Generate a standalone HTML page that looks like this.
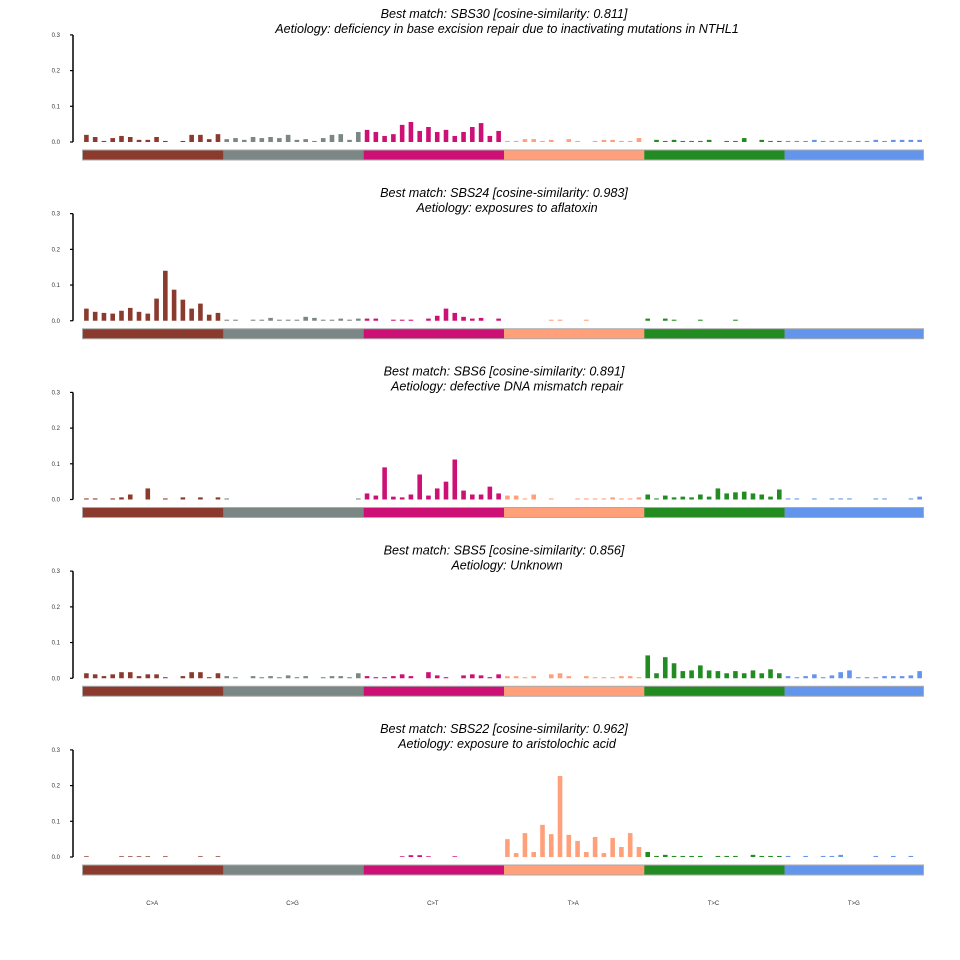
<!DOCTYPE html>
<html><head><meta charset="utf-8"><style>
html,body{margin:0;padding:0;background:#fff;}
svg{display:block;font-family:"Liberation Sans",sans-serif;}
</style></head><body>
<svg id="chart" width="960" height="960" viewBox="0 0 960 960" xmlns="http://www.w3.org/2000/svg"></svg>
<script>
const categories = ["C>A","C>G","C>T","T>A","T>C","T>G"];
const titles1 = ["Best match: SBS30 [cosine-similarity: 0.811]","Best match: SBS24 [cosine-similarity: 0.983]","Best match: SBS6 [cosine-similarity: 0.891]","Best match: SBS5 [cosine-similarity: 0.856]","Best match: SBS22 [cosine-similarity: 0.962]"];
const titles2 = ["Aetiology: deficiency in base excision repair due to inactivating mutations in NTHL1","Aetiology: exposures to aflatoxin","Aetiology: defective DNA mismatch repair","Aetiology: Unknown","Aetiology: exposure to aristolochic acid"];
const yTicks = [0.0,0.1,0.2,0.3];
const yTickLabels = ["0.0","0.1","0.2","0.3"];
const sbs30 = [
.020,.014,.003,.011,.017,.014,.006,.006,.014,.003,0,.003,.020,.020,.008,.022,
.008,.011,.006,.014,.011,.014,.011,.020,.006,.008,.003,.011,.020,.022,.006,.028,
.034,.028,.017,.022,.048,.056,.031,.042,.028,.034,.017,.028,.042,.053,.017,.031,
.003,.003,.008,.008,.003,.006,0,.008,.003,0,.003,.006,.006,.003,.003,.011,
0,.006,.003,.006,.003,.003,.003,.006,0,.003,.003,.011,0,.006,.003,.003,
.003,.003,.003,.006,.003,.003,.003,.003,.003,.003,.006,.003,.006,.006,.006,.006];
const sbs24 = [
.034,.025,.022,.020,.028,.036,.025,.020,.062,.140,.087,.059,.034,.048,.017,.022,
.003,.003,0,.003,.003,.008,.003,.003,.003,.011,.008,.003,.003,.006,.003,.006,
.006,.006,0,.003,.003,.003,0,.006,.014,.034,.022,.011,.006,.008,0,.006,
0,0,0,0,0,.003,.003,0,0,.003,0,0,0,0,0,0,
.006,0,.006,.003,0,0,.003,0,0,0,.003,0,0,0,0,0,
0,0,0,0,0,0,0,0,0,0,0,0,0,0,0,0];
const sbs6 = [
.003,.003,0,.003,.006,.014,0,.031,0,.003,0,.006,0,.006,0,.006,
.003,0,0,0,0,0,0,0,0,0,0,0,0,0,0,.003,
.017,.011,.090,.008,.006,.014,.070,.011,.031,.050,.112,.025,.014,.014,.036,.017,
.011,.011,.003,.014,0,.003,0,0,.003,.003,.003,.003,.006,.003,.003,.006,
.014,.003,.011,.006,.008,.006,.014,.008,.031,.017,.020,.022,.017,.014,.008,.028,
.003,.003,0,.003,0,.003,.003,.003,0,0,.003,.003,0,0,.003,.008];
const sbs5 = [
.014,.011,.006,.011,.017,.017,.006,.011,.011,.003,0,.006,.017,.017,.003,.014,
.006,.003,0,.006,.003,.006,.003,.008,.003,.006,0,.003,.006,.006,.003,.014,
.006,.003,.003,.006,.011,.006,0,.017,.008,.003,0,.008,.011,.008,.003,.011,
.006,.006,.003,.006,0,.011,.014,.006,0,.006,.003,.003,.003,.006,.006,.003,
.064,.014,.059,.042,.020,.022,.036,.022,.020,.014,.020,.014,.022,.014,.025,.014,
.006,.003,.006,.011,.003,.008,.017,.022,.003,.003,.003,.006,.006,.006,.008,.020];
const sbs22 = [
.002,0,0,0,.002,.002,.002,.002,0,.002,0,0,0,.002,0,.002,
0,0,0,0,0,0,0,0,0,0,0,0,0,0,0,0,
0,0,0,0,.002,.005,.005,.002,0,0,.002,0,0,0,0,0,
.050,.011,.067,.014,.090,.064,.227,.062,.045,.014,.056,.011,.053,.028,.067,.028,
.014,.003,.006,.003,.003,.003,.003,0,.003,.003,.003,0,.006,.003,.003,.003,
.003,0,.003,0,.003,.003,.006,0,0,0,.003,0,.003,0,.003,0];
const panels = [sbs30, sbs24, sbs6, sbs5, sbs22];
const colors = ["#8B3A2E","#7A8784","#CD1076","#FFA07A","#228B22","#6495ED"];

const NS = "http://www.w3.org/2000/svg";
const svg = document.getElementById("chart");
function mk(tag, attrs, parent){ const e=document.createElementNS(NS,tag); for(const k in attrs) e.setAttribute(k,attrs[k]); (parent||svg).appendChild(e); return e; }
const X0 = 82, X1 = 924, step = (X1-X0)/96;
const PANEL_STEP = 178.75, Y_SCALE = 357;
function xPos(i){ return X0 + i*step + 2.1; }
function yPos(v, p){ return 142 + p*PANEL_STEP - v*Y_SCALE; }

panels.forEach((vals, p) => {
  const off = p*PANEL_STEP;
  const g = mk("g", {});
  
  
  const t1 = mk("text", {x:504, y:18+off, "text-anchor":"middle", "font-size":"12.6", "font-style":"italic", fill:"#000"}, g);
  t1.textContent = titles1[p];
  
  
  const t2 = mk("text", {x:507, y:33+off, "text-anchor":"middle", "font-size":"12.6", "font-style":"italic", fill:"#000"}, g);
  t2.textContent = titles2[p];
  
  
  const ax = mk("line", {x1:73, x2:73, y1:yPos(0.3,p), y2:yPos(0,p), stroke:"#000", "stroke-width":"1.5"}, g);
  
  
  yTicks.forEach((tv, k) => {
    mk("line", {x1:70, x2:73, y1:yPos(tv,p), y2:yPos(tv,p), stroke:"#000", "stroke-width":"1.2"}, g);
    const tl = mk("text", {x:60, y:yPos(tv,p)+2, "text-anchor":"end", "font-size":"6", fill:"#333"}, g);
    tl.textContent = yTickLabels[k];
    
    
  });
  vals.forEach((v, i) => {
    if (v <= 0) return;
    const y = yPos(v,p);
    const r = mk("rect", {x:xPos(i), y:y, width:4.6, height:yPos(0,p)-y, fill:colors[Math.floor(i/16)]}, g);
    
    
  });
  mk("rect", {x:X0, y:149.5+off, width:X1-X0, height:11, fill:"#aaa"}, g);
  categories.forEach((c, k) => {
    const s = mk("rect", {x:X0+1+k*16*step, y:150.5+off, width:16*step-(k==5?2:0), height:9, fill:colors[k]}, g);
    
    
  });
});
categories.forEach((c, k) => {
  const t = mk("text", {x:X0+(k+0.5)*16*step, y:905, "text-anchor":"middle", "font-size":"6", fill:"#333"});
  t.textContent = c;
  
  
});
</script>
</body></html>
